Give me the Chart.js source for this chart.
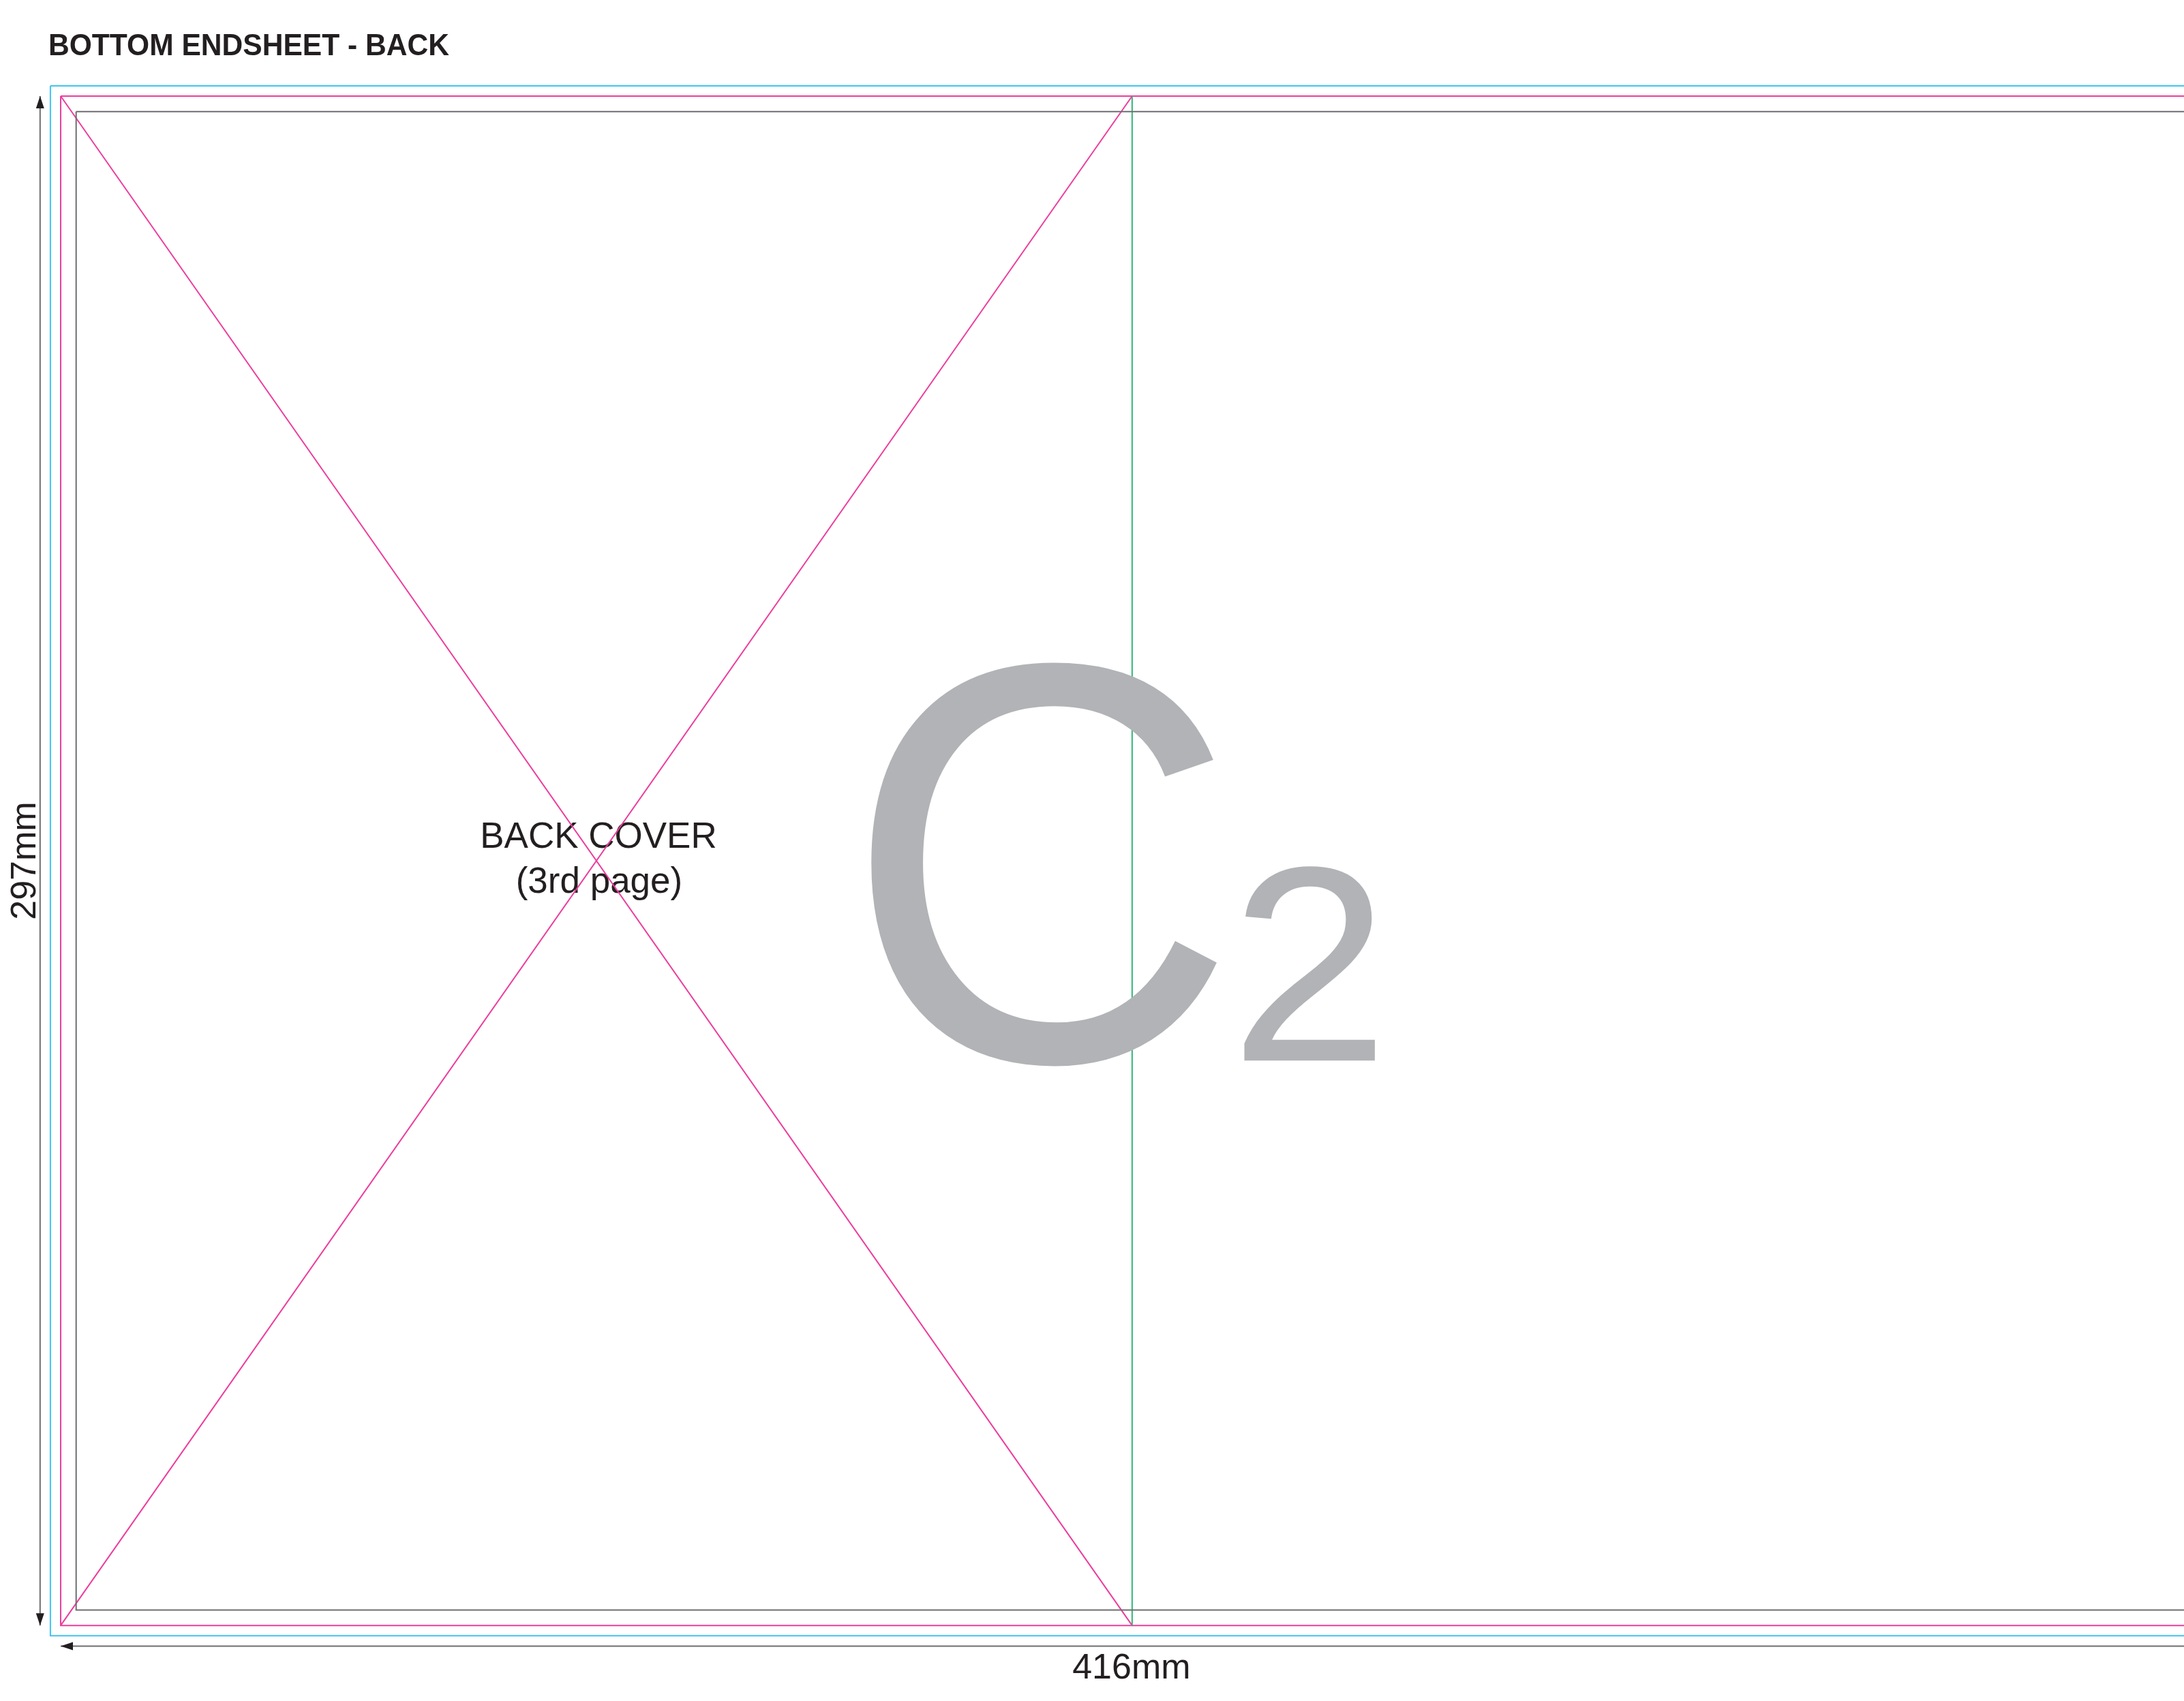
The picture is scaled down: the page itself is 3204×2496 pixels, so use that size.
<!DOCTYPE html>
<html>
<head>
<meta charset="utf-8">
<script src="https://cdn.jsdelivr.net/npm/chart.js@4/dist/chart.umd.min.js"></script>
<style>
  body { margin: 0; background: #fff; }
  canvas { display: block; }
</style>
</head>
<body>
<canvas id="myChart" width="3204" height="2496"></canvas>
<script>
// all sizes in mm, y goes down from the top trim edge
const bleedX = [-2, 418, 418, -2, -2]
const bleedY = [-2, -2, 299, 299, -2]
const trimX = [0, 416, 416, 0, 0]
const trimY = [0, 0, 297, 297, 0]
const safeX = [3, 413, 413, 3, 3]
const safeY = [3, 3, 294, 294, 3]
const spineX = [208, 208]
const spineY = [0, 297]
const crossAX = [0, 208]
const crossAY = [0, 297]
const crossBX = [208, 0]
const crossBY = [0, 297]
const dimVX = [-4, -4]
const dimVY = [0, 297]
const dimHX = [0, 416]
const dimHY = [301, 301]

const titleText = 'BOTTOM ENDSHEET - BACK'
const pageLabel = ['BACK COVER', '(3rd page)']
const heightLabel = '297mm'
const widthLabel = '416mm'
const bigMark = ['C', '2']

// turn two lists into {x, y} points
function pts(xs, ys) {
    return xs.map((x, i) => ({ x: x, y: ys[i] }))
}

function lineSet(xs, ys, color) {
    return {
        data: pts(xs, ys),
        showLine: true,
        borderColor: color,
        borderWidth: 2,
        pointRadius: 0,
        tension: 0,
        fill: false,
        clip: false
    }
}

const textPlugin = {
    id: 'textPlugin',
    beforeDatasetsDraw(chart) {
        const ctx = chart.ctx
        const xs = chart.scales.x
        const ys = chart.scales.y
        ctx.save()
        ctx.fillStyle = '#231f20'
        // title
        ctx.font = 'bold 44px "Liberation Sans", Arial, sans-serif'
        ctx.textAlign = 'left'
        ctx.textBaseline = 'alphabetic'
        ctx.fillText(titleText, 71, 81, 588)

        // page label at the centre of the left page
        const cx = xs.getPixelForValue(104)
        const cy = ys.getPixelForValue(148.5)
        ctx.font = '53px "Liberation Sans", Arial, sans-serif'
        ctx.textAlign = 'center'
        ctx.fillText(pageLabel[0], cx + 3, cy - 19)
        ctx.fillText(pageLabel[1], cx + 4, cy + 47)
        ctx.restore()
    },
    afterDatasetsDraw(chart) {
        const ctx = chart.ctx
        const xs = chart.scales.x
        const ys = chart.scales.y
        ctx.save()

        // arrow heads on the dimension lines
        ctx.fillStyle = '#231f20'
        function arrow(x, y, dx, dy) {
            const len = 18, half = 6
            ctx.beginPath()
            ctx.moveTo(x, y)
            ctx.lineTo(x - dx * len - dy * half, y - dy * len + dx * half)
            ctx.lineTo(x - dx * len + dy * half, y - dy * len - dx * half)
            ctx.closePath()
            ctx.fill()
        }
        const vx = xs.getPixelForValue(dimVX[0])
        arrow(vx, ys.getPixelForValue(dimVY[0]), 0, -1)
        arrow(vx, ys.getPixelForValue(dimVY[1]), 0, 1)
        const hy = ys.getPixelForValue(dimHY[0])
        arrow(xs.getPixelForValue(dimHX[0]), hy, -1, 0)
        arrow(xs.getPixelForValue(dimHX[1]), hy, 1, 0)

        // dimension labels
        ctx.font = '52px "Liberation Sans", Arial, sans-serif'
        ctx.textAlign = 'center'
        ctx.textBaseline = 'alphabetic'
        ctx.fillText(widthLabel, xs.getPixelForValue(208) - 1, hy + 48)

        ctx.save()
        ctx.translate(vx - 7, ys.getPixelForValue(148.5))
        ctx.rotate(-Math.PI / 2)
        ctx.fillText(heightLabel, 0, 0)
        ctx.restore()

        // big grey C2, glyphs a bit stretched to match the original face
        ctx.fillStyle = '#b1b3b6'
        ctx.textAlign = 'left'
        const bx = xs.getPixelForValue(152)
        const by = ys.getPixelForValue(187.3)
        ctx.font = '800px "Liberation Sans", Arial, sans-serif'
        const cw = ctx.measureText(bigMark[0]).width
        ctx.save()
        ctx.translate(bx, by)
        ctx.scale(1, 1.045)
        ctx.fillText(bigMark[0], 0, 0)
        ctx.restore()
        ctx.save()
        ctx.translate(bx + cw - 11, by)
        ctx.scale(1.05, 1.02)
        ctx.font = '400px "Liberation Sans", Arial, sans-serif'
        ctx.fillText(bigMark[1], 0, 0)
        ctx.restore()

        ctx.restore()
    }
}

const ctx = document.getElementById('myChart')
const sheet = new Chart(ctx, {
    type: 'scatter',
    data: {
        datasets: [
            lineSet(bleedX, bleedY, '#3fc4f0'),
            lineSet(safeX, safeY, '#6d6e71'),
            lineSet(spineX, spineY, '#33b679'),
            lineSet(trimX, trimY, '#ec3d9d'),
            lineSet(crossAX, crossAY, '#ec3d9d'),
            lineSet(crossBX, crossBY, '#ec3d9d'),
            lineSet(dimVX, dimVY, '#6d6e71'),
            lineSet(dimHX, dimHY, '#6d6e71')
        ]
    },
    options: {
        responsive: false,
        animation: false,
        devicePixelRatio: 1,
        layout: { padding: 0 },
        plugins: {
            legend: { display: false },
            tooltip: { enabled: false }
        },
        scales: {
            x: {
                type: 'linear',
                display: false,
                min: -11.78,
                max: 412.2
            },
            y: {
                type: 'linear',
                display: false,
                reverse: true,
                min: -18.66,
                max: 311.67
            }
        }
    },
    plugins: [textPlugin]
})
</script>
</body>
</html>
